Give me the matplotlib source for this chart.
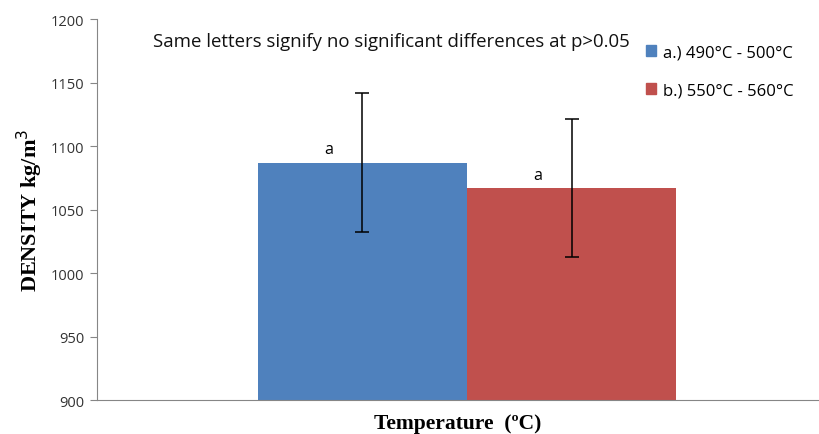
import numpy as np
import matplotlib.pyplot as plt
from matplotlib.patches import Patch

labels = ["a.) 490°C - 500°C", "b.) 550°C - 560°C"]
density = [1087, 1067]
errors = [55, 54]
letters = ["a", "a"]
colors = ["#4F81BD", "#C0504D"]

fig = plt.figure(figsize=(8.2, 4.35), dpi=100)
ax = fig.add_axes([0.118, 0.078, 0.88, 0.876])

pos = np.arange(len(density))
ax.bar(pos, density, width=1.0, color=colors)
ax.errorbar(pos, density, yerr=errors, fmt="none", ecolor="black",
            elinewidth=1.1, capsize=5, capthick=1.1)

for i in range(len(density)):
    ax.text(pos[i] - 0.16, density[i] + 4, letters[i], ha="center", va="bottom",
            fontsize=11.5, family="Open Sans")

ax.set_ylim(900, 1200)
ax.set_yticks(np.arange(900, 1201, 50))
ax.set_xlim(-1.27, 2.18)
ax.set_xticks([])

for s in ["top", "right"]:
    ax.spines[s].set_visible(False)
for s in ["left", "bottom"]:
    ax.spines[s].set_color("#868686")
ax.tick_params(axis="y", colors="#868686", labelcolor="#333333", labelsize=10.5,
               length=5, pad=4)
for t in ax.get_yticklabels():
    t.set_family("Open Sans")

ax.set_ylabel("DENSITY kg/m$^3$", family="Liberation Serif", fontweight="bold",
              fontsize=16, labelpad=4)
ax.set_xlabel("Temperature  (ºC)", family="Liberation Serif", fontweight="bold",
              fontsize=15.5, labelpad=9)

ax.text(0.408, 0.942, "Same letters signify no significant differences at p>0.05",
        transform=ax.transAxes, ha="center", va="center", fontsize=13.4, family="Open Sans",
        color="#111111")

handles = [Patch(color=c) for c in colors]
fig.legend(handles, labels, loc="upper left", bbox_to_anchor=(0.77, 0.93),
           frameon=False, handlelength=0.6, handleheight=0.6, handletextpad=0.4,
           labelspacing=1.3, prop={"family": "Open Sans", "size": 12})

fig.savefig("out.png")
